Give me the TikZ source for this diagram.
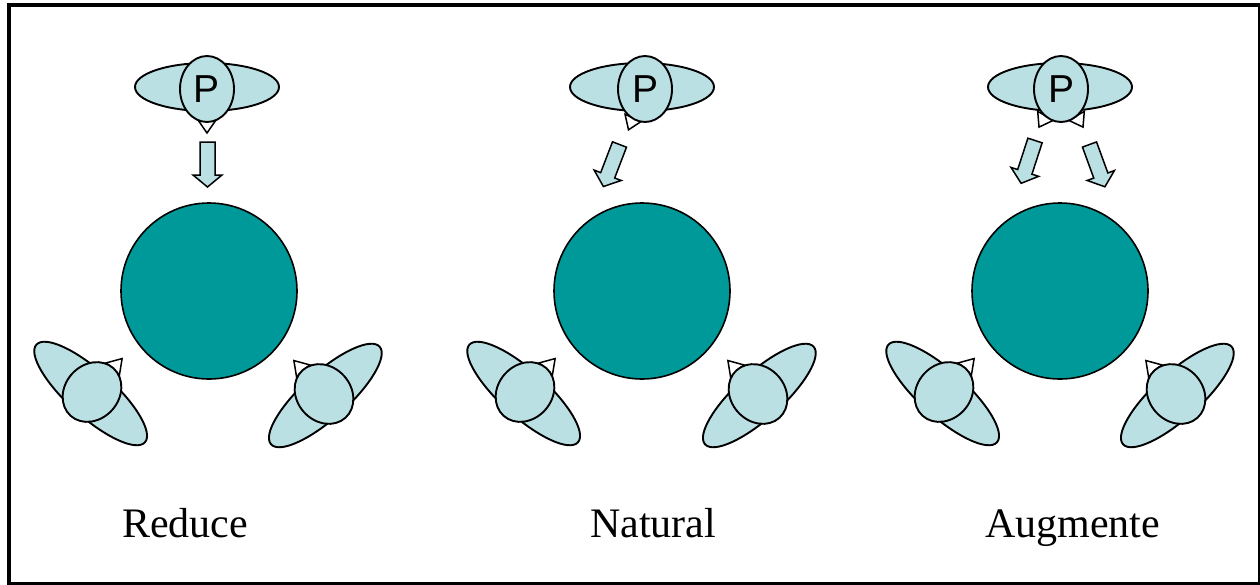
\documentclass[tikz,border=0pt]{standalone}
\usepackage{fontspec}
\setmainfont{Liberation Serif}
\newfontfamily\pfont{Liberation Sans}
\definecolor{lb}{RGB}{187,224,227}
\definecolor{globeteal}{RGB}{0,153,153}
\tikzset{
  figfill/.style={fill=lb,draw=black,line width=1.9pt},
  tri/.style={fill=white,draw=black,line width=1.5pt,line join=miter},
  blockarrow/.style={fill=lb,draw=black,line width=1.5pt,line join=miter},
  globe/.style={fill=globeteal,draw=black,line width=1.6pt},
  caption/.style={font=\fontsize{42}{50}\selectfont,anchor=base west,inner sep=0pt},
  pletter/.style={font=\pfont\fontsize{39}{47}\selectfont,inner sep=0pt},
}
\newcommand\lowerperson[3]{%
  \begin{scope}[shift={(#1,#2)},rotate=#3]
    \draw[figfill] (0,-2) ellipse [x radius=73, y radius=23];
    \draw[tri] (-9,31) -- (0,45) -- (9,31) -- cycle;
    \draw[figfill] (0,0) ellipse [x radius=27, y radius=32];
  \end{scope}}
\newcommand\barrow[3]{%
  \begin{scope}[shift={(#1,#2)},rotate=#3]
    \draw[blockarrow] (-7.5,0) -- (7.5,0) -- (7.5,33) -- (14.5,33) -- (0,45) -- (-14.5,33) -- (-7.5,33) -- cycle;
  \end{scope}}
\begin{document}
\begin{tikzpicture}[x=1pt,y=-1pt]
\useasboundingbox (0,0) rectangle (1260,584);
\draw[line width=4pt] (9,5) rectangle (1260,584);

% big globes
\draw[globe] (209,291) circle [radius=88];
\draw[globe] (642,291) circle [radius=88];
\draw[globe] (1060,291) circle [radius=88];

% ---- panel 1 top
\begin{scope}[shift={(207,89)}]
  \draw[figfill] (0,-2) ellipse [x radius=72, y radius=24];
  \draw[tri] (-9,31) -- (0,44) -- (9,31) -- cycle;
  \draw[figfill] (0,0) ellipse [x radius=27, y radius=33];
  \node[pletter] (p1) at (0,0) {P};
\end{scope}
\barrow{207.5}{142}{0}

% ---- panel 2 top
\begin{scope}[shift={(645,89)}]
  \draw[figfill] (-3,-2) ellipse [x radius=72, y radius=24];
  \draw[tri,rotate=-22] (-9,31) -- (0,44) -- (9,31) -- cycle;
  \draw[figfill] (0,0) ellipse [x radius=27, y radius=33];
  \node[pletter] (p2) at (0,0) {P};
\end{scope}
\barrow{619.5}{144.5}{-21}

% ---- panel 3 top
\begin{scope}[shift={(1061,89)}]
  \draw[figfill] (-1,-2) ellipse [x radius=72, y radius=24];
  \draw[tri,rotate=-30] (-9,31) -- (0,44) -- (9,31) -- cycle;
  \draw[tri,rotate=30] (-9,31) -- (0,44) -- (9,31) -- cycle;
  \draw[figfill] (0,0) ellipse [x radius=27, y radius=33];
  \node[pletter] (p3) at (0,0) {P};
\end{scope}
\barrow{1035}{140.5}{-18}
\barrow{1089.5}{144.5}{20}

% ---- lower persons
\lowerperson{92}{392}{138}
\lowerperson{324}{394}{-138}
\lowerperson{525}{392}{138}
\lowerperson{758}{394}{-138}
\lowerperson{944}{392}{138}
\lowerperson{1176}{394}{-138}

% captions
\node[caption] (c1) at (122,537) {Reduce};
\node[caption] (c2) at (590,537) {Natural};
\node[caption] (c3) at (985,537) {Augmente};
\end{tikzpicture}
\end{document}
